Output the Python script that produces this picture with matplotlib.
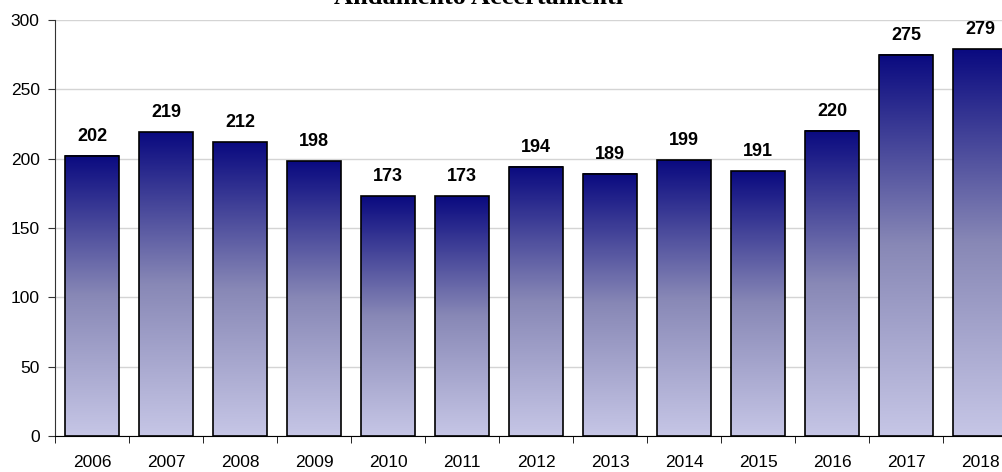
import matplotlib
matplotlib.use("Agg")
import matplotlib.pyplot as plt
import numpy as np
from matplotlib.colors import LinearSegmentedColormap

years = ["2006", "2007", "2008", "2009", "2010", "2011", "2012", "2013", "2014", "2015", "2016", "2017", "2018"]
values = [202, 219, 212, 198, 173, 173, 194, 189, 199, 191, 220, 275, 279]
title = "Andamento Accertamenti"
yticks = [0, 50, 100, 150, 200, 250, 300]

W, H = 1002, 472
fig = plt.figure(figsize=(W / 100, H / 100), dpi=100)
ax = fig.add_axes([55 / W, (H - 436) / H, 962 / W, 416 / H])

cmap = LinearSegmentedColormap.from_list(
    "grad", [(0.0, (198/255, 198/255, 230/255)), (0.5, (136/255, 136/255, 182/255)),
             (1.0, (10/255, 10/255, 128/255))])
grad = np.linspace(0, 1, 256).reshape(-1, 1)

x = np.arange(len(years))
bw = 0.72
for xi, v in zip(x, values):
    ax.imshow(grad, extent=(xi - bw / 2, xi + bw / 2, 0, v), origin="lower",
              cmap=cmap, aspect="auto", zorder=2, interpolation="bilinear")
ax.bar(x, values, width=bw, fill=False, edgecolor="black", linewidth=1.2, zorder=3)

for xi, v in zip(x, values):
    ax.text(xi, v + 8, str(v), ha="center", va="bottom", fontsize=13,
            fontweight="bold", family="Liberation Sans", zorder=4)

ax.set_xlim(-0.5, len(years) - 0.5)
ax.set_ylim(0, 300)
ax.set_yticks(yticks)
ax.set_yticklabels([str(t) for t in yticks], fontsize=12.5, family="Liberation Sans")
ax.yaxis.grid(True, color="#d4d4d4", linewidth=1.0, zorder=0)
ax.set_axisbelow(True)

ax.set_xticks(x)
ax.set_xticklabels(years, fontsize=12.5, family="Liberation Sans")
ax.set_xticks(np.arange(-0.5, len(years)), minor=True)
ax.tick_params(axis="x", which="major", length=0, pad=14)
ax.tick_params(axis="x", which="minor", length=5, direction="out", color="black")
ax.tick_params(axis="y", length=5, direction="out", color="#333333", pad=6)

for s in ["top", "right"]:
    ax.spines[s].set_visible(False)
ax.spines["left"].set_color("#333333")
ax.spines["bottom"].set_color("black")

fig.text(479 / W, 1 - 4 / H, title, ha="center", va="baseline", fontsize=19,
         fontweight="bold", family="Liberation Serif")

fig.savefig("out.png", dpi=100)
